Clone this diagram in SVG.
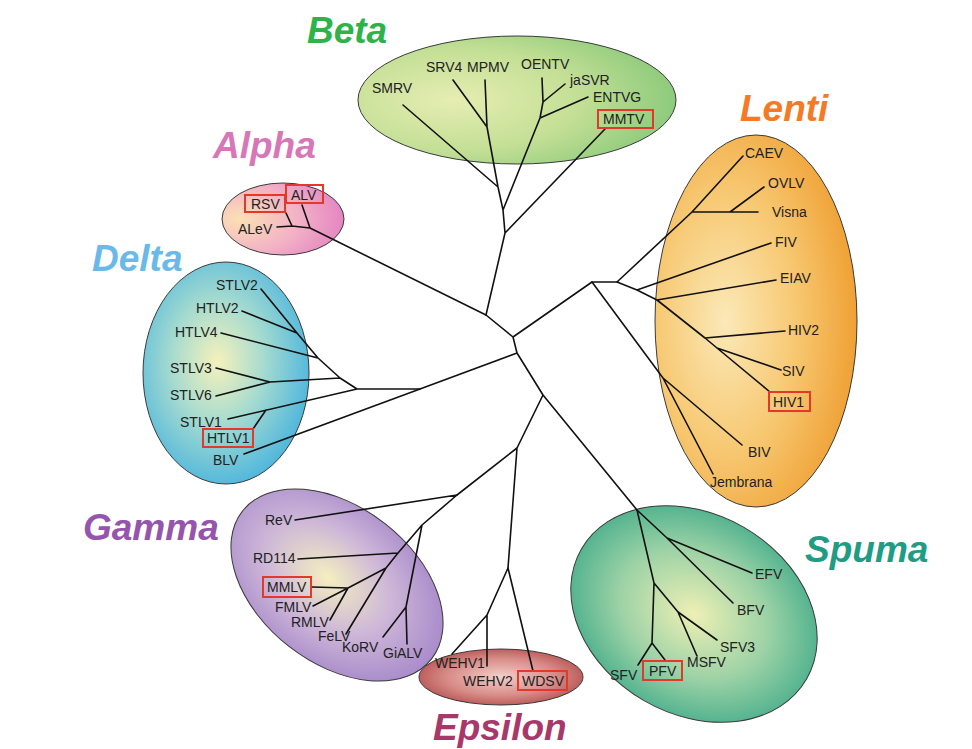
<svg xmlns="http://www.w3.org/2000/svg" width="972" height="749" viewBox="0 0 972 749">
<style>
.lbl{font-family:"Liberation Sans",Arial,sans-serif;font-size:14px;fill:#222}
.ttl{font-family:"Liberation Sans",Arial,sans-serif;font-size:37px;font-weight:bold;font-style:italic}
.box{fill:none;stroke:#e2392b;stroke-width:2}
.ell{stroke:#3a3a3a;stroke-width:1}
.tree{fill:none;stroke:#111;stroke-width:1.6;stroke-linejoin:round;stroke-linecap:round}
</style>
<defs>
<radialGradient id="gBeta" cx="0.3" cy="0.5" r="0.8"><stop offset="0" stop-color="#e6edb2"/><stop offset="0.5" stop-color="#c3df95"/><stop offset="1" stop-color="#7cc474"/></radialGradient>
<radialGradient id="gAlpha" cx="0.15" cy="0.5" r="0.95"><stop offset="0" stop-color="#fbe0b4"/><stop offset="0.5" stop-color="#f2b2c6"/><stop offset="1" stop-color="#e27ac0"/></radialGradient>
<radialGradient id="gDelta" cx="0.45" cy="0.45" r="0.6"><stop offset="0" stop-color="#f6f1bb"/><stop offset="0.45" stop-color="#a8dccf"/><stop offset="1" stop-color="#47b3de"/></radialGradient>
<radialGradient id="gLenti" cx="0.35" cy="0.5" r="0.7"><stop offset="0" stop-color="#fbe9b8"/><stop offset="0.5" stop-color="#f7c872"/><stop offset="1" stop-color="#ee9a2a"/></radialGradient>
<radialGradient id="gGamma" cx="0.45" cy="0.5" r="0.6"><stop offset="0" stop-color="#f4efc0"/><stop offset="0.5" stop-color="#cdb6d8"/><stop offset="1" stop-color="#a283c8"/></radialGradient>
<radialGradient id="gSpuma" cx="0.5" cy="0.5" r="0.6"><stop offset="0" stop-color="#eef0b4"/><stop offset="0.5" stop-color="#9dd2a6"/><stop offset="1" stop-color="#31a585"/></radialGradient>
<radialGradient id="gEps" cx="0.5" cy="0.5" r="0.6"><stop offset="0" stop-color="#f3cfca"/><stop offset="0.55" stop-color="#d88c88"/><stop offset="1" stop-color="#ad4444"/></radialGradient>
</defs>
<rect width="972" height="749" fill="#ffffff"/>

<g id="clade-beta">
<ellipse class="ell" cx="517" cy="100" rx="159" ry="64" fill="url(#gBeta)"/>
<text class="ttl" x="307" y="43" fill="#2db34a">Beta</text>
</g>
<g id="clade-alpha">
<ellipse class="ell" cx="283" cy="219" rx="61" ry="36" fill="url(#gAlpha)"/>
<text class="ttl" x="213" y="158" fill="#d777b8">Alpha</text>
</g>
<g id="clade-delta">
<ellipse class="ell" cx="226" cy="373" rx="83" ry="111" fill="url(#gDelta)"/>
<text class="ttl" x="92" y="271" fill="#6bb9e8">Delta</text>
</g>
<g id="clade-lenti">
<ellipse class="ell" cx="756" cy="321" rx="101" ry="186" fill="url(#gLenti)"/>
<text class="ttl" x="740" y="121" fill="#f47a26">Lenti</text>
</g>
<g id="clade-gamma">
<ellipse class="ell" cx="337" cy="585" rx="120" ry="78" transform="rotate(38 337 585)" fill="url(#gGamma)"/>
<text class="ttl" x="83" y="540" fill="#9555ad">Gamma</text>
</g>
<g id="clade-spuma">
<ellipse class="ell" cx="694" cy="614" rx="130" ry="100" transform="rotate(30 694 614)" fill="url(#gSpuma)"/>
<text class="ttl" x="805" y="562" fill="#1e9c84">Spuma</text>
</g>
<g id="clade-epsilon">
<ellipse class="ell" cx="501" cy="677" rx="82" ry="28" fill="url(#gEps)"/>
<text class="ttl" x="433" y="740" fill="#a8386a">Epsilon</text>
</g>

<g id="connectors" class="tree">
<path d="M485,80 L487,127 L498,187 L503,210 L505,233 L486,315
M453,80 L487,127 M403,105 L498,187
M542,78 L543,102 L540,118 L503,210 M565,84 L543,102 M588,97 L540,118
M605,129 L505,233"/>
<path d="M486,315 L310,228 L302,205 M310,228 L292,226 L286,213 M292,226 L277,227"/>
<path d="M486,315 L513,337 L517,353 M513,337 L592,282 L617,282
M517,353 L420,389 L244,454 M517,353 L543,395 L637,510
M543,395 L517,448 L457,495 M517,448 L508,568"/>
<path d="M420,389 L357,389 L340,378 L318,358 L297,333 L261,289
M297,333 L242,311 M318,358 L221,333 M340,378 L270,382 L216,368
M270,382 L216,396 M357,389 L228,419 M266,410 L253,429"/>
<path d="M617,282 L692,212 L743,156 M692,212 L758,212 M730,212 L764,187
M617,282 L637,290 L657,300 L705,338 L717,348 L770,392
M637,290 L771,243 M657,300 L776,280 M705,338 L785,331 M717,348 L781,370
M592,282 L663,378 L742,445 M663,378 L713,474"/>
<path d="M637,510 L667,538 L752,573 M667,538 L733,603
M637,510 L654,583 L652,643 L638,665 M652,643 L665,660
M654,583 L678,612 L717,640 M678,612 L697,656"/>
<path d="M457,495 L422,525 L398,553 L386,568 L348,588
M457,495 L295,520 M422,525 L406,607 L383,637 M406,607 L407,644
M398,553 L298,559 M386,568 L346,634
M348,588 L312,587 M348,588 L313,606 M348,588 L330,620"/>
<path d="M508,568 L487,615 L452,654 M487,615 L487,666 M508,568 L533,671"/>
</g>

<g id="leaves-beta">
<text class="lbl" x="372" y="93">SMRV</text>
<text class="lbl" x="426" y="72">SRV4</text>
<text class="lbl" x="467" y="72">MPMV</text>
<text class="lbl" x="521" y="69">OENTV</text>
<text class="lbl" x="570" y="85">jaSVR</text>
<text class="lbl" x="593" y="102">ENTVG</text>
<g id="MMTV"><rect class="box" x="598" y="110" width="55" height="18"/><text class="lbl" x="603" y="124">MMTV</text></g>
</g>
<g id="leaves-alpha">
<g id="RSV"><rect class="box" x="245" y="195" width="40" height="17"/><text class="lbl" x="251" y="209">RSV</text></g>
<g id="ALV"><rect class="box" x="286" y="185" width="37" height="18"/><text class="lbl" x="291" y="200">ALV</text></g>
<text class="lbl" x="238" y="234">ALeV</text>
</g>
<g id="leaves-delta">
<text class="lbl" x="216" y="290">STLV2</text>
<text class="lbl" x="196" y="313">HTLV2</text>
<text class="lbl" x="175" y="337">HTLV4</text>
<text class="lbl" x="170" y="373">STLV3</text>
<text class="lbl" x="170" y="400">STLV6</text>
<text class="lbl" x="180" y="427">STLV1</text>
<g id="HTLV1"><rect class="box" x="203" y="429" width="50" height="18"/><text class="lbl" x="207" y="443">HTLV1</text></g>
<text class="lbl" x="213" y="465">BLV</text>
</g>
<g id="leaves-lenti">
<text class="lbl" x="745" y="158">CAEV</text>
<text class="lbl" x="768" y="188">OVLV</text>
<text class="lbl" x="772" y="217">Visna</text>
<text class="lbl" x="775" y="247">FIV</text>
<text class="lbl" x="780" y="283">EIAV</text>
<text class="lbl" x="788" y="335">HIV2</text>
<text class="lbl" x="782" y="376">SIV</text>
<g id="HIV1"><rect class="box" x="769" y="392" width="41" height="19"/><text class="lbl" x="773" y="407">HIV1</text></g>
<text class="lbl" x="748" y="457">BIV</text>
<text class="lbl" x="710" y="487">Jembrana</text>
</g>
<g id="leaves-gamma">
<text class="lbl" x="265" y="525">ReV</text>
<text class="lbl" x="253" y="563">RD114</text>
<g id="MMLV"><rect class="box" x="263" y="577" width="48" height="20"/><text class="lbl" x="267" y="592">MMLV</text></g>
<text class="lbl" x="275" y="612">FMLV</text>
<text class="lbl" x="291" y="627">RMLV</text>
<text class="lbl" x="318" y="641">FeLV</text>
<text class="lbl" x="342" y="652">KoRV</text>
<text class="lbl" x="383" y="658">GiALV</text>
</g>
<g id="leaves-epsilon">
<text class="lbl" x="435" y="668">WEHV1</text>
<text class="lbl" x="463" y="686">WEHV2</text>
<g id="WDSV"><rect class="box" x="518" y="671" width="49" height="19"/><text class="lbl" x="522" y="686">WDSV</text></g>
</g>
<g id="leaves-spuma">
<text class="lbl" x="755" y="579">EFV</text>
<text class="lbl" x="737" y="615">BFV</text>
<text class="lbl" x="720" y="652">SFV3</text>
<text class="lbl" x="687" y="667">MSFV</text>
<text class="lbl" x="610" y="680">SFV</text>
<g id="PFV"><rect class="box" x="643" y="661" width="39" height="19"/><text class="lbl" x="649" y="676">PFV</text></g>
</g>
</svg>
